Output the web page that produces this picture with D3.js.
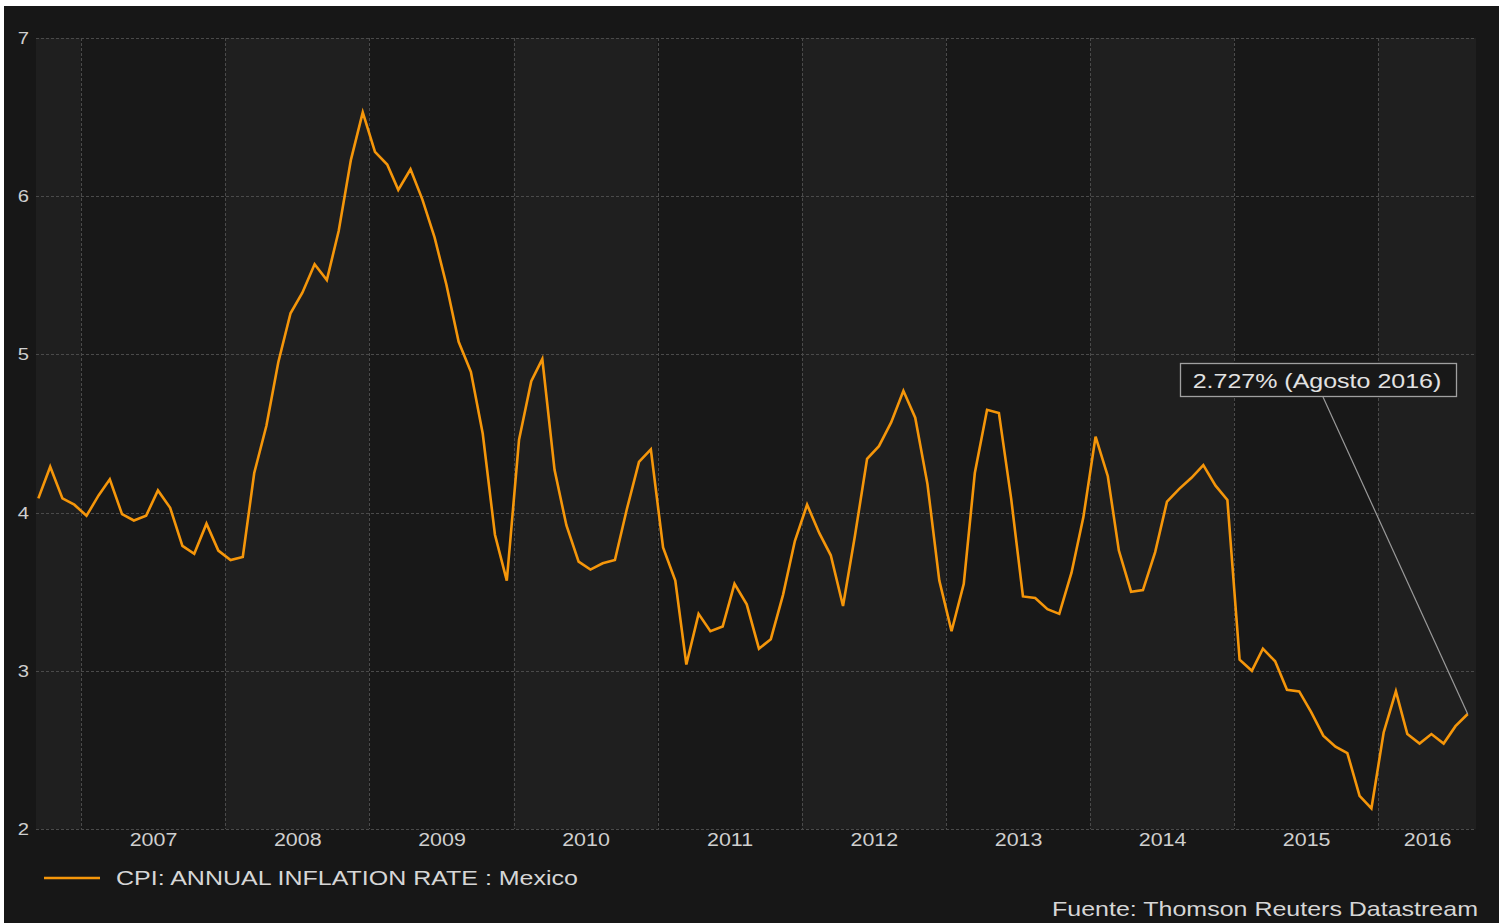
<!DOCTYPE html>
<html>
<head>
<meta charset="utf-8">
<script src="https://cdn.jsdelivr.net/npm/d3@7"></script>
<style>
  html, body { margin: 0; padding: 0; background: #ffffff; }
  svg { display: block; }
  text { font-family: "Liberation Sans", Arial, sans-serif; }
</style>
</head>
<body>
<svg id="chart" width="1499" height="923"></svg>
<script>
// ---- data ----
const startMonth = "2006-09"; // first observation
const inflation = [
  4.09, 4.29, 4.09, 4.05,                                                 // 2006 Sep-Dec
  3.98, 4.11, 4.21, 3.99, 3.95, 3.98, 4.14, 4.03, 3.79, 3.74, 3.93, 3.76, // 2007
  3.70, 3.72, 4.25, 4.55, 4.95, 5.26, 5.39, 5.57, 5.47, 5.78, 6.23, 6.53, // 2008
  6.28, 6.20, 6.04, 6.17, 5.98, 5.74, 5.44, 5.08, 4.89, 4.50, 3.86, 3.57, // 2009
  4.46, 4.83, 4.97, 4.27, 3.92, 3.69, 3.64, 3.68, 3.70, 4.02, 4.32, 4.40, // 2010
  3.78, 3.57, 3.04, 3.36, 3.25, 3.28, 3.55, 3.42, 3.14, 3.20, 3.48, 3.82, // 2011
  4.05, 3.87, 3.73, 3.41, 3.85, 4.34, 4.42, 4.57, 4.77, 4.60, 4.18, 3.57, // 2012
  3.25, 3.55, 4.25, 4.65, 4.63, 4.09, 3.47, 3.46, 3.39, 3.36, 3.62, 3.97, // 2013
  4.48, 4.23, 3.76, 3.50, 3.51, 3.75, 4.07, 4.15, 4.22, 4.30, 4.17, 4.08, // 2014
  3.07, 3.00, 3.14, 3.06, 2.88, 2.87, 2.74, 2.59, 2.52, 2.48, 2.21, 2.13, // 2015
  2.61, 2.87, 2.60, 2.54, 2.60, 2.54, 2.65, 2.727                         // 2016 Jan-Aug
];
const yearTicks = [2007, 2008, 2009, 2010, 2011, 2012, 2013, 2014, 2015, 2016];
const bandYears = [2006, 2007, 2008, 2009, 2010, 2011, 2012, 2013, 2014, 2015, 2016];
const yTicks = [2, 3, 4, 5, 6, 7];
const seriesName = "CPI: ANNUAL INFLATION RATE : Mexico";
const annotationText = "2.727% (Agosto 2016)";
const sourceText = "Fuente: Thomson Reuters Datastream";

// ---- build ----
const parseMonth = d3.timeParse("%Y-%m");
const first = parseMonth(startMonth);
const data = inflation.map((v, i) => {
  const d = d3.timeMonth.offset(first, i);
  return { date: new Date(d.getFullYear(), d.getMonth(), 15), value: v };
});

const svg = d3.select("#chart");
svg.append("rect").attr("x", 4).attr("y", 6).attr("width", 1495).attr("height", 917).attr("fill", "#171717");

const pL = 36, pR = 1476, pT = 38, pB = 829;
const x = d3.scaleTime()
  .domain([new Date(2006, 8, 9), new Date(2016, 8, 5)])
  .range([pL, pR]);
const y = d3.scaleLinear().domain([2, 7]).range([pB, pT]);

// alternating year bands
svg.append("g").selectAll("rect").data(bandYears).join("rect")
  .attr("x", d => Math.max(pL, x(new Date(d, 0, 1))))
  .attr("width", d => Math.min(pR, x(new Date(d + 1, 0, 1))) - Math.max(pL, x(new Date(d, 0, 1))))
  .attr("y", pT).attr("height", pB - pT)
  .attr("fill", (d, i) => i % 2 === 0 ? "#1f1f1f" : "#181818");

// grid
const grid = svg.append("g").attr("stroke", "#4a4a4a").attr("stroke-width", 1).attr("stroke-dasharray", "3,2");
grid.selectAll("line.h").data(yTicks).join("line").attr("class", "h")
  .attr("x1", pL).attr("x2", pR)
  .attr("y1", d => Math.round(y(d)) + 0.5).attr("y2", d => Math.round(y(d)) + 0.5);
grid.selectAll("line.v").data(yearTicks).join("line").attr("class", "v")
  .attr("x1", d => Math.round(x(new Date(d, 0, 1))) + 0.5).attr("x2", d => Math.round(x(new Date(d, 0, 1))) + 0.5)
  .attr("y1", pT).attr("y2", pB);

// y axis labels
const yAxis = d3.axisLeft(y).tickValues(yTicks).tickSize(0).tickPadding(7).tickFormat(d3.format("d"));
const gy = svg.append("g").attr("transform", `translate(${pL},0)`).call(yAxis);
gy.select(".domain").remove();
gy.selectAll("text").attr("fill", "#cfcfcf").attr("font-size", 17);

// x axis labels centered in each year
const xAxis = d3.axisBottom(x)
  .tickValues(yearTicks.map(yr => {
    const s = new Date(yr, 0, 1), e = new Date(yr + 1, 0, 1);
    const ms = Math.min(+e, +x.domain()[1]);
    return new Date((+s + ms) / 2);
  }))
  .tickSize(0).tickPadding(4).tickFormat(d3.timeFormat("%Y"));
const gx = svg.append("g").attr("transform", `translate(0,${pB})`).call(xAxis);
gx.select(".domain").remove();
gx.selectAll("text").attr("fill", "#cfcfcf").attr("font-size", 18);

// line
const line = d3.line().x(d => x(d.date)).y(d => y(d.value));
svg.append("path").datum(data)
  .attr("fill", "none").attr("stroke", "#f5960a").attr("stroke-width", 2.6)
  .attr("stroke-linejoin", "miter").attr("d", line);

// annotation
const last = data[data.length - 1];
svg.append("line")
  .attr("x1", 1323).attr("y1", 397)
  .attr("x2", x(last.date)).attr("y2", y(last.value))
  .attr("stroke", "#9a9a9a").attr("stroke-width", 1.2);
svg.append("rect").attr("x", 1180.5).attr("y", 363.5).attr("width", 276).attr("height", 33)
  .attr("fill", "#181818").attr("stroke", "#a0a0a0").attr("stroke-width", 1.3);
svg.append("text").attr("x", 1317).attr("y", 388).attr("text-anchor", "middle")
  .attr("fill", "#e2e2e2").attr("font-size", 21).text(annotationText);

// legend
svg.append("line").attr("x1", 44).attr("x2", 100).attr("y1", 878).attr("y2", 878)
  .attr("stroke", "#f5960a").attr("stroke-width", 2.6);
svg.append("text").attr("x", 116).attr("y", 885).attr("fill", "#d6d6d6").attr("font-size", 21).text(seriesName);

// source
svg.append("text").attr("x", 1478).attr("y", 916).attr("text-anchor", "end")
  .attr("fill", "#d6d6d6").attr("font-size", 21).text(sourceText);

// the reference glyphs are horizontally wider: stretch all text by ~1.19
svg.selectAll("text").each(function () {
  const len = this.getComputedTextLength();
  d3.select(this).attr("textLength", len * 1.19).attr("lengthAdjust", "spacingAndGlyphs");
});
</script>
</body>
</html>
